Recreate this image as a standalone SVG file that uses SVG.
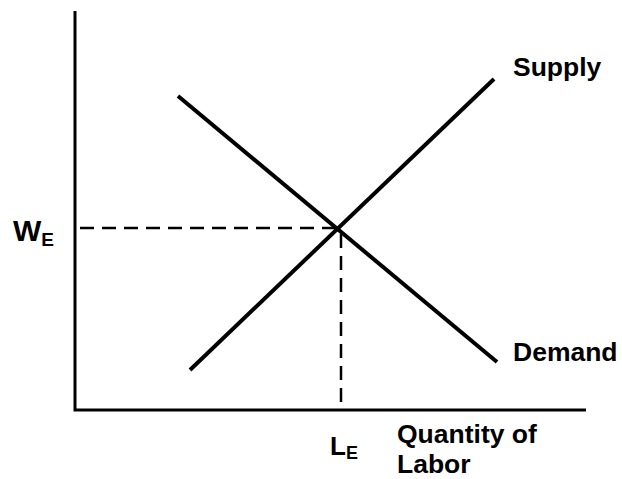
<svg xmlns="http://www.w3.org/2000/svg" width="622" height="479" viewBox="0 0 622 479">
<style>
.ax{stroke:#000;stroke-width:3;fill:none}
.cv{stroke:#000;stroke-width:4;fill:none}
.ds{stroke:#000;stroke-width:2.5;fill:none;stroke-dasharray:14 8}
text{font-family:"Liberation Sans",Arial,sans-serif;font-weight:bold;fill:#000}
.lb{font-size:26.5px}
</style>
<rect width="622" height="479" fill="#fff"/>
<g id="connectors">
<path class="ax" d="M75 11 V410 H586"/>
<path class="ds" d="M80 228 H340"/>
<path class="ds" d="M341 234 V410"/>
</g>
<g id="demand"><line class="cv" x1="178" y1="96" x2="497" y2="362"/><text class="lb" x="513" y="361">Demand</text></g>
<g id="supply"><line class="cv" x1="190" y1="370" x2="494" y2="79"/><text class="lb" x="513" y="76">Supply</text></g>
<g id="we"><text x="13" y="241" font-size="30">W<tspan font-size="19" dy="5">E</tspan></text></g>
<g id="le"><text x="330" y="455" font-size="26">L<tspan font-size="18" dy="4">E</tspan></text></g>
<g id="xlabel"><text class="lb" x="397" y="443">Quantity of</text><text class="lb" x="397" y="473">Labor</text></g>
</svg>
